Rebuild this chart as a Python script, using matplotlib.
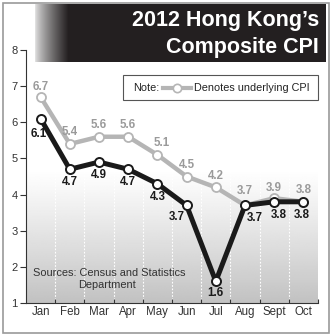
import matplotlib
matplotlib.use("Agg")
import matplotlib.pyplot as plt
import numpy as np
from matplotlib.patches import Rectangle
from matplotlib.lines import Line2D

plt.rcParams['font.family'] = ['Liberation Sans', 'DejaVu Sans']

# data
months = ['Jan', 'Feb', 'Mar', 'Apr', 'May', 'Jun', 'Jul', 'Aug', 'Sept', 'Oct']
composite = [6.1, 4.7, 4.9, 4.7, 4.3, 3.7, 1.6, 3.7, 3.8, 3.8]
underlying = [6.7, 5.4, 5.6, 5.6, 5.1, 4.5, 4.2, 3.7, 3.9, 3.8]
y_ticks = [1, 2, 3, 4, 5, 6, 7, 8]

# label offsets in points (dx, dy)
comp_off = [(-1, -7), (0, -5), (0, -5), (0, -5), (0, -5), (-7, -4), (0, -4), (7, -5), (3, -5), (-1, -5)]
und_off = [(0, 3), (0, 4), (0, 4), (0, 4), (3, 4), (0, 4), (0, 4), (0, 6), (0, 3), (0, 4)]

W, H = 332, 335
fig = plt.figure(figsize=(W / 100, H / 100), dpi=100)

def fx(px):
    return px / W

def fy(py):
    return 1 - py / H

# outer frame
fig.patches.append(Rectangle((fx(3), fy(333)), fx(326), (330) / H, transform=fig.transFigure,
                             fill=False, edgecolor='#9a9a9a', linewidth=1.2))

# title banner with gradient at its left edge
bax = fig.add_axes([fx(35), fy(62), fx(291), 58 / H])
n = 291
grad = np.ones(n)
ramp = 34
grad[:ramp] = np.linspace(0.0, 1.0, ramp) ** 0.8
c0 = np.array([0.88, 0.88, 0.88])
c1 = np.array([0x23, 0x1f, 0x20]) / 255
img = c0[None, :] * (1 - grad[:, None]) + c1[None, :] * grad[:, None]
bax.imshow(img[None, :, :], aspect='auto', extent=[0, 1, 0, 1])
bax.axis('off')

fig.text(fx(319), fy(26), "2012 Hong Kong\u2019s", color='white', fontsize=15.5, fontweight='bold',
         ha='right', va='baseline')
fig.text(fx(319), fy(53), "Composite CPI", color='white', fontsize=15.5, fontweight='bold',
         ha='right', va='baseline')

# main axes
ax = fig.add_axes([fx(26), fy(303), fx(292), 253 / H])
x = np.arange(len(months))
ax.set_xlim(-0.5, len(months) - 0.5)
ax.set_ylim(1, 8)

# gradient background in the lower part of the plot
gtop = 4.7
gy = np.linspace(0, 1, 200) ** 1.1
bg = 1 - 0.24 * gy
ax.imshow(bg[:, None], cmap='gray', vmin=0, vmax=1, aspect='auto',
          extent=[-0.5, len(months) - 0.5, 1, gtop], origin='upper', zorder=0)
ax.vlines(x[:-1] + 0.5, 1, gtop, colors='white', linestyles=(0, (1.5, 1.5)), linewidth=0.8, zorder=1)
ax.vlines([len(months) - 0.5], 1, gtop, colors='#bdbdbd', linewidth=0.6, zorder=1)

ax.plot(x, underlying, color='#b5b5b5', linewidth=3.2, marker='o', markersize=6.5,
        markerfacecolor='white', markeredgecolor='#b5b5b5', markeredgewidth=1.3, zorder=3)
ax.plot(x, composite, color='#1a1a1a', linewidth=3.6, marker='o', markersize=6.5,
        markerfacecolor='white', markeredgecolor='#1a1a1a', markeredgewidth=1.4, zorder=4)

for i, v in enumerate(underlying):
    ax.annotate(f"{v:.1f}", (x[i], v), xytext=und_off[i], textcoords='offset points',
                ha='center', va='bottom', fontsize=8.3, fontweight='bold', color='#9a9a9a', zorder=5)
for i, v in enumerate(composite):
    ax.annotate(f"{v:.1f}", (x[i], v), xytext=comp_off[i], textcoords='offset points',
                ha='center', va='top', fontsize=8.3, fontweight='bold', color='#1a1a1a', zorder=5)

for s in ['top', 'right']:
    ax.spines[s].set_visible(False)
ax.spines['left'].set_color('#333333')
ax.spines['bottom'].set_color('#333333')
ax.spines['left'].set_linewidth(0.8)
ax.spines['bottom'].set_linewidth(0.8)
ax.set_yticks(y_ticks)
ax.set_yticklabels([str(t) for t in y_ticks])
ax.tick_params(axis='y', direction='out', length=4, width=0.8, color='#333333',
               labelsize=8, labelcolor='#333333', pad=2)
ax.set_xticks(x)
ax.set_xticklabels(months)
ax.tick_params(axis='x', which='major', length=0, labelsize=8.3, labelcolor='#333333', pad=2)
ax.set_xticks(list(x[:-1] + 0.5) + [len(months) - 0.5], minor=True)
ax.tick_params(axis='x', which='minor', direction='in', length=3, width=0.8, color='#333333')
ax.patch.set_alpha(0)

# note box
fig.patches.append(Rectangle((fx(123), fy(100)), fx(195), 25 / H, transform=fig.transFigure,
                             facecolor='white', edgecolor='#555555', linewidth=0.8))
fig.text(fx(133), fy(88), "Note:", fontsize=7.8, color='#222222', va='center', ha='left')
fig.lines.append(Line2D([fx(163), fx(191)], [fy(88), fy(88)], transform=fig.transFigure,
                        color='#b5b5b5', linewidth=3.0, marker=None))
fig.lines.append(Line2D([fx(177)], [fy(88)], transform=fig.transFigure, marker='o',
                        markersize=6, markerfacecolor='white', markeredgecolor='#b5b5b5',
                        markeredgewidth=1.2, linestyle='none'))
fig.text(fx(194), fy(88), "Denotes underlying CPI", fontsize=7.8, color='#222222', va='center', ha='left')

# source
fig.text(fx(33), fy(273), "Sources: Census and Statistics", fontsize=7.9, color='#333333', va='center')
fig.text(fx(107), fy(285), "Department", fontsize=7.9, color='#333333', va='center', ha='center')

fig.savefig('out.png', dpi=100)
